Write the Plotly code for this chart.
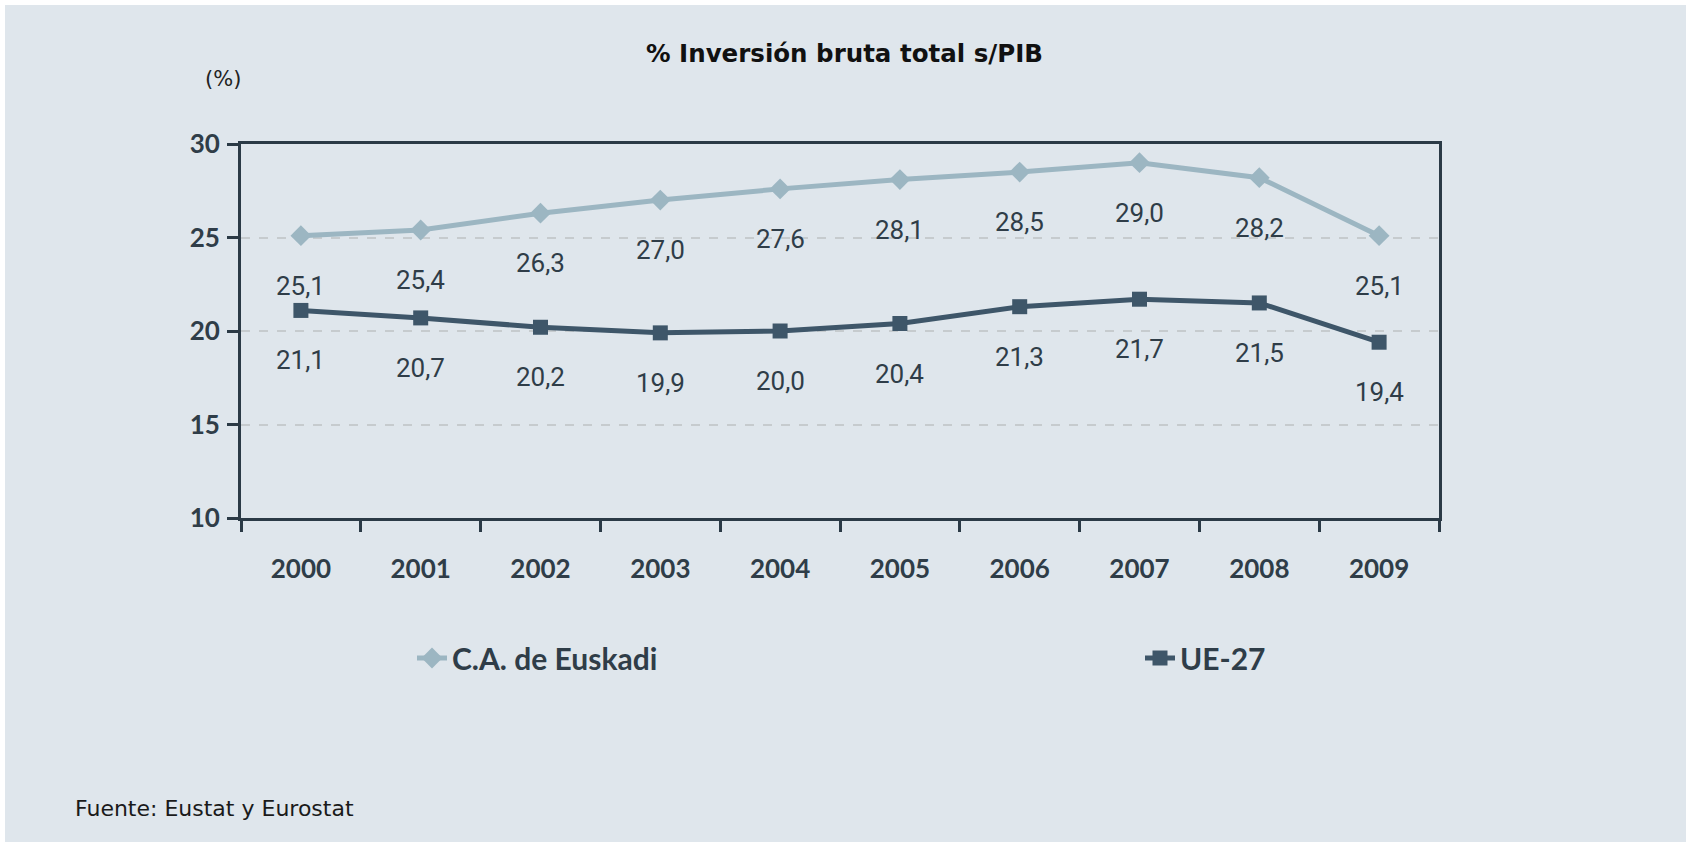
import plotly.graph_objects as go

years = ["2000", "2001", "2002", "2003", "2004", "2005", "2006", "2007", "2008", "2009"]
euskadi = [25.1, 25.4, 26.3, 27.0, 27.6, 28.1, 28.5, 29.0, 28.2, 25.1]
ue27 = [21.1, 20.7, 20.2, 19.9, 20.0, 20.4, 21.3, 21.7, 21.5, 19.4]
y_ticks = [10, 15, 20, 25, 30]

W, H = 1689, 846
L, R, T, B = 241, 1439, 144, 518
pw, ph = R - L, B - T

BG = "#dfe6ec"
AXIS = "#2b3a46"
C_EUS = "#9cb6c2"
C_UE = "#3e5669"
TXT = "#2f3d48"

fig = go.Figure()
fig.add_trace(go.Scatter(
    x=years, y=euskadi, name="C.A. de Euskadi", mode="lines+markers",
    line=dict(color=C_EUS, width=5),
    marker=dict(symbol="diamond", size=16, color=C_EUS),
    legend="legend",
))
fig.add_trace(go.Scatter(
    x=years, y=ue27, name="UE-27", mode="lines+markers",
    line=dict(color=C_UE, width=5),
    marker=dict(symbol="square", size=15, color=C_UE),
    legend="legend2",
))

def fmt(v):
    return f"{v:.1f}".replace(".", ",")

anns = []
for series in (euskadi, ue27):
    for i, v in enumerate(series):
        # category axis: annotation x given as the category index
        anns.append(dict(x=i, y=v, xref="x", yref="y", text=fmt(v), showarrow=False,
                         xanchor="center", yanchor="middle",
                         yshift=-50, font=dict(family="Roboto", size=26, color=TXT)))

def px(xp):
    return (xp - L) / pw

def py(yp):
    return (B - yp) / ph

anns.append(dict(x=px(W / 2), y=py(54), xref="paper", yref="paper", xanchor="center", yanchor="middle",
                 text="<b>% Inversión bruta total s/PIB</b>", showarrow=False,
                 font=dict(family="DejaVu Sans", size=24.5, color="#111111")))
anns.append(dict(x=px(223), y=py(79), xref="paper", yref="paper", xanchor="center", yanchor="middle",
                 text="(%)", showarrow=False,
                 font=dict(family="DejaVu Sans", size=21, color="#222222")))
anns.append(dict(x=px(73), y=py(808), xref="paper", yref="paper", xanchor="left", yanchor="middle",
                 text="Fuente: Eustat y Eurostat", showarrow=False,
                 font=dict(family="DejaVu Sans", size=22, color="#1a1a1a")))

leg_common = dict(orientation="h", xanchor="left", yanchor="middle", y=py(658),
                  bgcolor="rgba(0,0,0,0)", font=dict(family="Lato", size=30, color=TXT, weight="bold"))

fig.update_layout(
    width=W, height=H,
    margin=dict(l=L, r=W - R, t=T, b=H - B, pad=0, autoexpand=False),
    paper_bgcolor="white",
    plot_bgcolor=BG,
    showlegend=True,
    legend=dict(x=px(412), **leg_common),
    legend2=dict(x=px(1140), **leg_common),
    annotations=anns,
    shapes=[dict(type="rect", xref="paper", yref="paper", layer="below",
                 x0=px(5), x1=px(1686), y0=py(842), y1=py(5),
                 fillcolor=BG, line=dict(width=0))],
)
fig.update_xaxes(
    type="category", range=[-0.5, len(years) - 0.5],
    showline=True, linecolor=AXIS, linewidth=3, mirror=True,
    ticks="outside", tickson="boundaries", ticklen=11, tickwidth=3, tickcolor=AXIS,
    showgrid=False, ticklabelstandoff=26, tickangle=0,
    tickfont=dict(family="Lato", size=26, color=TXT, weight="bold"),
)
fig.update_yaxes(
    range=[10, 30], tickvals=y_ticks, showline=True, linecolor=AXIS, linewidth=3, mirror=True,
    ticks="outside", ticklen=11, tickwidth=3, tickcolor=AXIS,
    showgrid=True, gridcolor="#c6cbce", griddash="dash", gridwidth=1.5, zeroline=False,
    ticklabelstandoff=2,
    tickfont=dict(family="Lato", size=26, color=TXT, weight="bold"),
)
fig.write_html("out.html", config={"displayModeBar": False},
               post_script="document.body.style.margin='0px';")
